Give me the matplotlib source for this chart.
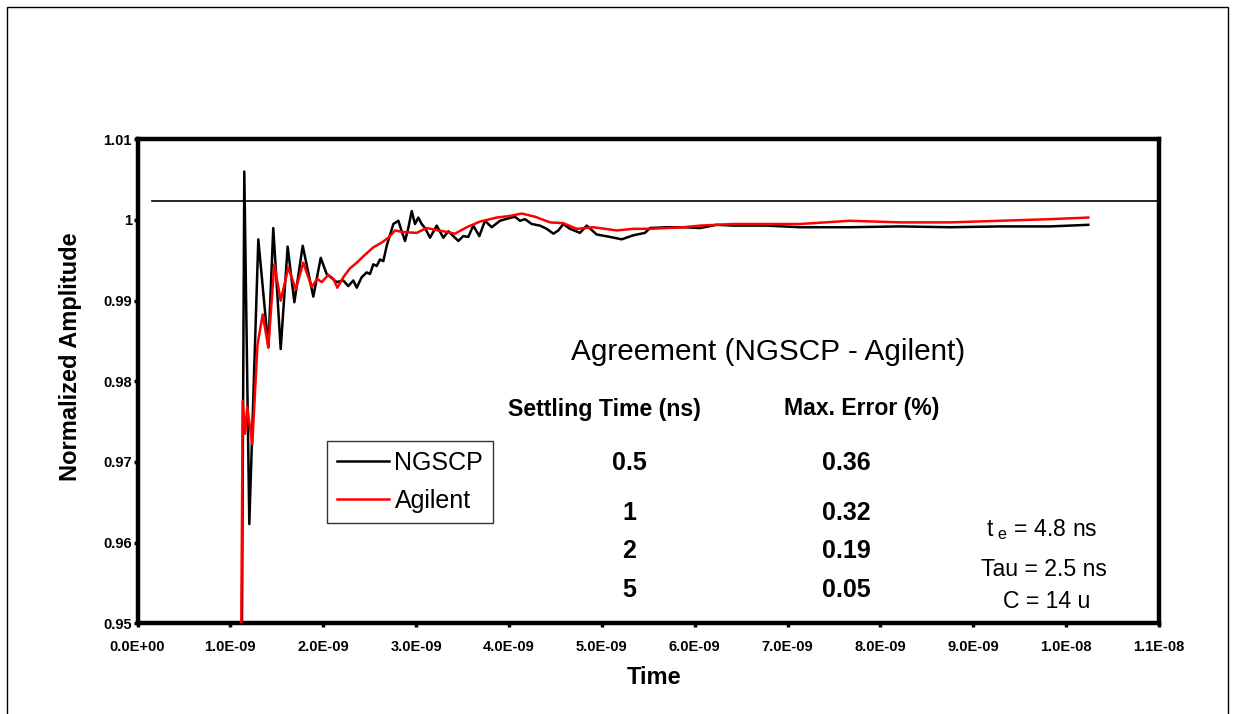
import numpy as np
import matplotlib
matplotlib.use("Agg")
import matplotlib.pyplot as plt
from matplotlib.patches import Rectangle
from matplotlib.ticker import FuncFormatter, FixedLocator

plt.rcParams['font.family'] = ['Liberation Sans', 'DejaVu Sans']

# step response, time in ns
T_NGSCP = [1.100, 1.125, 1.150, 1.204, 1.301, 1.409, 1.462, 1.542, 1.617, 1.689, 1.779,
           1.893, 1.973, 2.037, 2.145, 2.216, 2.270, 2.324, 2.361, 2.414, 2.468, 2.504,
           2.539, 2.576, 2.611, 2.647, 2.684, 2.755, 2.809, 2.845, 2.881, 2.916, 2.953,
           2.988, 3.024, 3.060, 3.096, 3.150, 3.222, 3.293, 3.347, 3.401, 3.455, 3.508,
           3.562, 3.616, 3.681, 3.742, 3.814, 3.904, 3.993, 4.065, 4.119, 4.173, 4.245,
           4.334, 4.407, 4.478, 4.532, 4.585, 4.658, 4.765, 4.837, 4.945, 5.088, 5.214,
           5.339, 5.465, 5.519, 5.699, 5.878, 6.057, 6.237, 6.416, 6.776, 7.134, 7.673,
           8.211, 8.750, 9.288, 9.827, 10.239]
V_NGSCP = [0.940, 0.950, 1.0060, 0.9623, 0.9976, 0.9842, 0.9990, 0.9840, 0.9967, 0.9898,
           0.9968, 0.9905, 0.9953, 0.9933, 0.9923, 0.9925, 0.9918, 0.9925, 0.9916, 0.9929,
           0.9935, 0.9933, 0.9945, 0.9943, 0.9951, 0.9949, 0.9968, 0.9995, 0.9999, 0.9986,
           0.9974, 0.9990, 1.0011, 0.9995, 1.0003, 0.9995, 0.9990, 0.9978, 0.9993, 0.9978,
           0.9986, 0.9980, 0.9974, 0.9980, 0.9979, 0.9993, 0.9980, 0.9999, 0.9991, 0.9999,
           1.0002, 1.0004, 0.9999, 1.0001, 0.9995, 0.9993, 0.9989, 0.9983, 0.9987, 0.9995,
           0.9989, 0.9984, 0.9993, 0.9982, 0.9979, 0.9976, 0.9981, 0.9984, 0.9990, 0.9991,
           0.9991, 0.9990, 0.9994, 0.9993, 0.9993, 0.9991, 0.9991, 0.9992, 0.9991, 0.9992,
           0.9992, 0.9994]

T_AGILENT = [1.110, 1.118, 1.133, 1.158, 1.182, 1.236, 1.292, 1.348, 1.409, 1.473, 1.542,
             1.624, 1.704, 1.785, 1.876, 1.936, 1.984, 2.055, 2.109, 2.152, 2.216, 2.288,
             2.361, 2.432, 2.539, 2.630, 2.701, 2.773, 2.862, 3.007, 3.114, 3.239, 3.293,
             3.419, 3.545, 3.688, 3.868, 4.011, 4.137, 4.281, 4.442, 4.585, 4.730, 4.908,
             5.160, 5.339, 5.519, 5.878, 6.057, 6.416, 6.776, 7.134, 7.673, 8.211, 8.750,
             9.288, 9.827, 10.239]
V_AGILENT = [0.940, 0.950, 0.9776, 0.9735, 0.9768, 0.9722, 0.9845, 0.9883, 0.9842, 0.9945,
             0.9900, 0.9941, 0.9914, 0.9947, 0.9917, 0.9927, 0.9923, 0.9932, 0.9927, 0.9916,
             0.9929, 0.9940, 0.9947, 0.9955, 0.9966, 0.9972, 0.9978, 0.9987, 0.9985, 0.9984,
             0.9990, 0.9987, 0.9986, 0.9983, 0.9991, 0.9998, 1.0003, 1.0005, 1.0008, 1.0004,
             0.9997, 0.9996, 0.9989, 0.9991, 0.9987, 0.9989, 0.9989, 0.9991, 0.9993, 0.9995,
             0.9995, 0.9995, 0.9999, 0.9997, 0.9997, 0.9999, 1.0001, 1.0003]

REF_LEVEL = 1.0023
REF_START = 0.16  # ns

X_TICKS_NS = list(range(0, 12))
Y_TICKS = [0.95, 0.96, 0.97, 0.98, 0.99, 1.00, 1.01]

SETTLING = ['0.5', '1', '2', '5']
MAX_ERR = ['0.36', '0.32', '0.19', '0.05']

W, H = 1236, 714
fig = plt.figure(figsize=(W / 100, H / 100), dpi=100)
ax = fig.add_axes([137.5 / W, 1 - 623.3 / H, (1159 - 137.5) / W, (623.3 - 139.3) / H])

ns = 1e-9
ax.plot(np.array(T_NGSCP) * ns, V_NGSCP, color='black', lw=1.8, label='NGSCP', zorder=3)
ax.plot(np.array(T_AGILENT) * ns, V_AGILENT, color='#ff0000', lw=1.8, label='Agilent', zorder=4)
ax.plot([REF_START * ns, 11 * ns], [REF_LEVEL, REF_LEVEL], color='black', lw=1.2, zorder=2)

ax.set_xlim(0, 11 * ns)
ax.set_ylim(0.95, 1.01)
ax.xaxis.set_major_locator(FixedLocator([t * ns for t in X_TICKS_NS]))
ax.yaxis.set_major_locator(FixedLocator(Y_TICKS))
ax.xaxis.set_major_formatter(FuncFormatter(lambda v, p: f"{abs(v):.1E}"))
ax.yaxis.set_major_formatter(FuncFormatter(lambda v, p: f"{round(v, 2):g}"))
for s in ax.spines.values():
    s.set_linewidth(3.2)
ax.tick_params(direction='out', length=3, width=2.5, labelsize=10.5)
ax.tick_params(axis='x', pad=9)
ax.tick_params(axis='y', pad=1)
for lab in ax.get_xticklabels() + ax.get_yticklabels():
    lab.set_fontweight('bold')

ax.set_xlabel('Time', fontsize=17, fontweight='bold')
ax.set_ylabel('Normalized Amplitude', fontsize=17, fontweight='bold')
ax.xaxis.set_label_coords(0.5056, -0.089)
ax.yaxis.set_label_coords(-0.054, 0.55)

leg = ax.legend(loc='upper left', bbox_to_anchor=(327 / W, 1 - 441 / H),
                bbox_transform=fig.transFigure, fontsize=18, frameon=True, fancybox=False,
                handlelength=2.1, handletextpad=0.22, borderpad=0.38, labelspacing=0.58,
                borderaxespad=0)
leg.get_frame().set_edgecolor('black')
leg.get_frame().set_linewidth(1.0)


def ftext(x, y, s, **kw):
    fig.text(x / W, 1 - y / H, s, ha='center', va='center', **kw)


ftext(768, 352, 'Agreement (NGSCP - Agilent)', fontsize=21.4)
ftext(604, 410, 'Settling Time (ns)', fontsize=16.7, fontweight='bold')
ftext(862, 408, 'Max. Error (%)', fontsize=16.6, fontweight='bold')
for s, e, y in zip(SETTLING, MAX_ERR, [463, 513, 551, 590]):
    ftext(629, y, s, fontsize=18, fontweight='bold')
    ftext(846, y, e, fontsize=18, fontweight='bold')

ftext(1042, 530, r't$_{\mathregular{\ e}}$ = 4.8 ns', fontsize=16.6)
ftext(1044, 569, 'Tau = 2.5 ns', fontsize=16.6)
ftext(1047, 601, 'C = 14 u', fontsize=16.6)

fig.patches.append(Rectangle((7 / W, -0.05), (1228 - 7) / W, 1.05 - 7 / H,
                             transform=fig.transFigure, fill=False, ec='black', lw=1.0))

fig.savefig('out.png', dpi=100)
